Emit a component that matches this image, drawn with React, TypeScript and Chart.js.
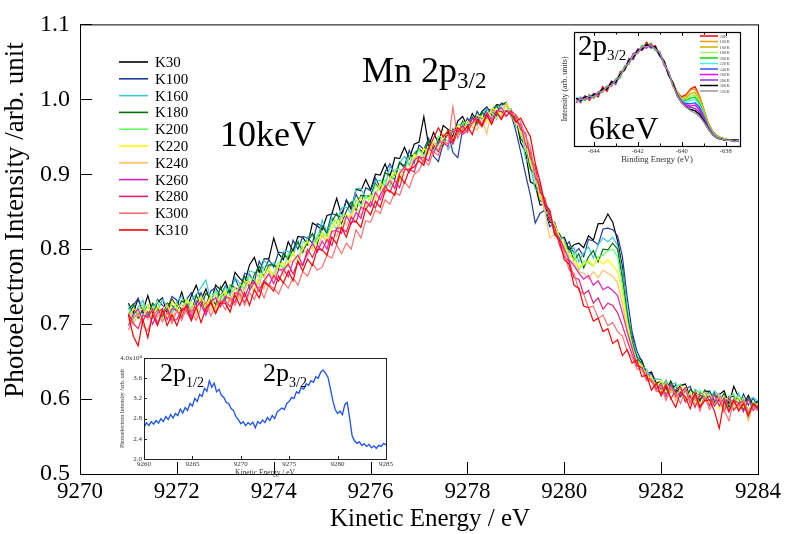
import React, { useEffect, useRef } from "react";
import { Chart, registerables } from "chart.js";

Chart.register(...registerables);

const SERIF = "'Liberation Serif', 'Times New Roman', Times, serif";

// ---------------- main panel (10 keV, Mn 2p3/2) ----------------
const energy = [
  9271.0, 9271.1, 9271.2, 9271.3, 9271.4, 9271.5, 9271.6, 9271.7, 9271.8, 9271.9,
  9272.0, 9272.1, 9272.2, 9272.3, 9272.4, 9272.5, 9272.6, 9272.7, 9272.8, 9272.9,
  9273.0, 9273.1, 9273.2, 9273.3, 9273.4, 9273.5, 9273.6, 9273.7, 9273.8, 9273.9,
  9274.0, 9274.1, 9274.2, 9274.3, 9274.4, 9274.5, 9274.6, 9274.7, 9274.8, 9274.9,
  9275.0, 9275.1, 9275.2, 9275.3, 9275.4, 9275.5, 9275.6, 9275.7, 9275.8, 9275.9,
  9276.0, 9276.1, 9276.2, 9276.3, 9276.4, 9276.5, 9276.6, 9276.7, 9276.8, 9276.9,
  9277.0, 9277.1, 9277.2, 9277.3, 9277.4, 9277.5, 9277.6, 9277.7, 9277.8, 9277.9,
  9278.0, 9278.1, 9278.2, 9278.3, 9278.4, 9278.5, 9278.6, 9278.7, 9278.8, 9278.9,
  9279.0, 9279.1, 9279.2, 9279.3, 9279.4, 9279.5, 9279.6, 9279.7, 9279.8, 9279.9,
  9280.0, 9280.1, 9280.2, 9280.3, 9280.4, 9280.5, 9280.6, 9280.7, 9280.8, 9280.9,
  9281.0, 9281.1, 9281.2, 9281.3, 9281.4, 9281.5, 9281.6, 9281.7, 9281.8, 9281.9,
  9282.0, 9282.1, 9282.2, 9282.3, 9282.4, 9282.5, 9282.6, 9282.7, 9282.8, 9282.9,
  9283.0, 9283.1, 9283.2, 9283.3, 9283.4, 9283.5, 9283.6, 9283.7, 9283.8, 9283.9,
  9284.0,
];

const K30 = [
  .728, .715, .734, .718, .738, .716, .729, .735, .714, .733,
  .723, .743, .721, .738, .752, .732, .747, .728, .752, .746,
  .757, .741, .769, .761, .755, .779, .789, .769, .787, .787,
  .815, .794, .786, .810, .797, .817, .816, .806, .835, .831,
  .826, .845, .847, .868, .846, .865, .853, .880, .878, .893,
  .879, .900, .899, .914, .897, .922, .921, .936, .921, .940,
  .943, .977, .938, .956, .941, .965, .960, .950, .971, .977,
  .964, .981, .971, .984, .990, .979, .993, .992, .996, .979,
  .976, .942, .929, .890, .886, .859, .860, .836, .834, .814,
  .816, .799, .806, .808, .802, .818, .812, .834, .834, .847,
  .836, .811, .776, .712, .684, .656, .652, .634, .636, .621,
  .624, .612, .624, .610, .618, .620, .602, .611, .598, .611,
  .610, .595, .606, .611, .594, .617, .602, .592, .605, .592,
  .598,
];
const K100 = [
  .710, .725, .734, .714, .725, .710, .733, .725, .720, .737,
  .732, .717, .733, .742, .726, .742, .724, .744, .749, .737,
  .751, .743, .762, .746, .768, .766, .756, .784, .772, .786,
  .776, .796, .795, .787, .812, .800, .817, .815, .808, .834,
  .831, .824, .848, .845, .843, .866, .856, .873, .861, .882,
  .878, .895, .882, .903, .914, .899, .916, .911, .932, .915,
  .939, .933, .948, .924, .917, .941, .958, .929, .922, .960,
  .975, .964, .984, .973, .987, .986, .978, .995, .993, .980,
  .958, .930, .900, .872, .835, .848, .852, .830, .836, .815,
  .802, .810, .794, .801, .790, .813, .811, .806, .827, .828,
  .826, .818, .790, .735, .690, .664, .650, .632, .634, .620,
  .613, .625, .611, .619, .603, .613, .617, .600, .609, .602,
  .611, .598, .607, .590, .603, .604, .589, .607, .592, .601,
  .590,
];
const K160 = [
  .726, .711, .722, .732, .709, .726, .717, .733, .724, .715,
  .730, .737, .719, .732, .739, .749, .759, .731, .744, .733,
  .750, .738, .762, .755, .747, .771, .769, .763, .786, .776,
  .782, .774, .797, .797, .792, .812, .795, .817, .818, .812,
  .839, .822, .842, .835, .855, .856, .848, .881, .881, .868,
  .872, .891, .892, .884, .911, .900, .915, .924, .912, .929,
  .934, .926, .944, .932, .939, .953, .933, .943, .966, .967,
  .964, .977, .965, .980, .988, .975, .991, .988, .984, .988,
  .963, .960, .921, .911, .880, .877, .851, .847, .819, .820,
  .812, .795, .802, .783, .795, .803, .788, .806, .815, .810,
  .816, .805, .770, .720, .680, .660, .644, .640, .626, .627,
  .626, .610, .618, .622, .606, .614, .596, .613, .608, .597,
  .598, .611, .604, .591, .604, .593, .608, .590, .599, .602,
  .597,
];
const K180 = [
  .720, .727, .708, .720, .711, .728, .721, .709, .728, .725,
  .718, .731, .727, .716, .739, .723, .741, .736, .726, .750,
  .732, .752, .749, .745, .764, .748, .766, .777, .763, .779,
  .779, .773, .794, .786, .801, .809, .796, .810, .821, .807,
  .830, .821, .837, .848, .834, .851, .863, .852, .872, .871,
  .871, .888, .879, .902, .898, .893, .916, .908, .923, .926,
  .934, .928, .945, .934, .947, .938, .959, .958, .953, .971,
  .961, .976, .968, .983, .975, .986, .992, .981, .995, .977,
  .976, .947, .940, .907, .899, .865, .860, .850, .821, .821,
  .798, .804, .785, .794, .775, .790, .798, .783, .800, .799,
  .808, .800, .760, .712, .676, .654, .648, .631, .630, .618,
  .621, .607, .623, .607, .615, .597, .613, .606, .597, .612,
  .595, .608, .597, .608, .589, .600, .601, .585, .602, .589,
  .596,
];
const K200 = [
  .722, .705, .718, .726, .709, .718, .731, .707, .724, .715,
  .728, .715, .734, .719, .731, .737, .721, .735, .744, .728,
  .742, .751, .736, .754, .745, .763, .759, .752, .776, .771,
  .767, .783, .774, .794, .793, .785, .810, .808, .803, .819,
  .822, .817, .837, .826, .846, .845, .841, .866, .856, .871,
  .865, .886, .878, .893, .883, .906, .907, .903, .924, .918,
  .933, .923, .937, .930, .951, .950, .944, .962, .954, .968,
  .970, .965, .979, .968, .982, .983, .973, .992, .992, .978,
  .968, .963, .931, .922, .888, .883, .849, .846, .833, .808,
  .808, .789, .795, .772, .784, .782, .777, .790, .792, .798,
  .800, .790, .752, .705, .672, .652, .646, .630, .628, .617,
  .610, .624, .608, .616, .620, .598, .608, .597, .612, .603,
  .608, .593, .602, .587, .602, .607, .590, .602, .585, .596,
  .592,
];
const K220 = [
  .704, .721, .716, .702, .725, .710, .723, .717, .708, .731,
  .722, .711, .731, .728, .718, .737, .725, .737, .720, .738,
  .744, .733, .748, .737, .758, .754, .746, .767, .763, .776,
  .762, .780, .781, .777, .796, .782, .801, .811, .798, .812,
  .821, .812, .828, .839, .827, .846, .842, .859, .869, .856,
  .872, .865, .889, .880, .896, .903, .891, .910, .906, .927,
  .917, .935, .927, .942, .932, .954, .952, .947, .965, .957,
  .971, .964, .978, .977, .969, .988, .986, .981, .995, .985,
  .977, .953, .948, .914, .901, .867, .869, .839, .833, .817,
  .806, .792, .786, .776, .780, .785, .778, .788, .780, .786,
  .778, .770, .740, .700, .670, .650, .644, .628, .630, .616,
  .625, .609, .617, .601, .611, .617, .597, .610, .591, .604,
  .595, .606, .587, .602, .599, .586, .603, .589, .598, .585,
  .594,
];
const K240 = [
  .716, .699, .714, .722, .705, .722, .709, .719, .726, .707,
  .722, .727, .713, .724, .711, .735, .727, .718, .738, .725,
  .739, .730, .749, .732, .747, .757, .744, .760, .747, .769,
  .760, .778, .765, .783, .784, .780, .803, .791, .808, .798,
  .819, .808, .824, .817, .843, .832, .848, .857, .845, .862,
  .856, .874, .885, .875, .894, .882, .904, .907, .905, .922,
  .924, .917, .935, .943, .932, .946, .936, .959, .957, .954,
  .970, .963, .959, .974, .954, .985, .983, .976, .994, .983,
  .967, .965, .935, .927, .908, .873, .851, .815, .820, .812,
  .804, .783, .782, .770, .768, .760, .770, .762, .772, .768,
  .764, .755, .728, .690, .666, .648, .640, .636, .622, .621,
  .608, .620, .614, .598, .616, .600, .608, .593, .604, .609,
  .604, .591, .606, .591, .582, .601, .588, .598, .571, .594,
  .588,
];
const K260 = [
  .698, .713, .720, .704, .717, .700, .715, .721, .706, .721,
  .718, .709, .727, .710, .731, .725, .712, .730, .735, .723,
  .737, .734, .729, .749, .736, .752, .757, .745, .758, .767,
  .754, .772, .773, .763, .784, .792, .779, .795, .808, .796,
  .811, .800, .824, .825, .821, .844, .834, .849, .841, .864,
  .857, .876, .866, .882, .891, .881, .901, .910, .902, .918,
  .924, .916, .936, .927, .944, .942, .937, .960, .958, .953,
  .959, .974, .972, .965, .983, .972, .984, .989, .977, .984,
  .970, .967, .940, .930, .896, .884, .857, .848, .822, .815,
  .800, .786, .778, .768, .760, .765, .752, .758, .746, .750,
  .745, .738, .715, .690, .668, .646, .642, .628, .626, .614,
  .619, .603, .619, .603, .609, .615, .595, .608, .589, .602,
  .591, .606, .591, .602, .583, .598, .595, .583, .600, .585,
  .592,
];
const K280 = [
  .714, .701, .694, .712, .709, .720, .701, .713, .720, .705,
  .706, .721, .718, .705, .723, .730, .716, .731, .715, .730,
  .731, .723, .742, .740, .729, .745, .756, .743, .758, .752,
  .765, .757, .772, .780, .767, .783, .778, .800, .789, .805,
  .798, .813, .805, .828, .828, .823, .843, .836, .856, .853,
  .863, .855, .873, .884, .876, .892, .882, .906, .907, .903,
  .923, .922, .918, .939, .930, .945, .953, .940, .957, .965,
  .956, .969, .977, .966, .978, .967, .985, .984, .978, .985,
  .978, .960, .955, .922, .910, .876, .868, .840, .830, .806,
  .790, .784, .762, .760, .740, .745, .728, .735, .720, .728,
  .725, .715, .698, .678, .660, .644, .642, .626, .624, .612,
  .608, .620, .600, .612, .616, .596, .604, .589, .606, .599,
  .604, .591, .600, .583, .602, .585, .594, .598, .581, .594,
  .586,
];
const K300 = [
  .692, .709, .714, .698, .691, .710, .719, .703, .716, .701,
  .718, .705, .722, .717, .705, .722, .729, .711, .724, .732,
  .719, .735, .725, .742, .725, .742, .733, .750, .735, .753,
  .748, .740, .756, .748, .762, .752, .770, .764, .781, .772,
  .776, .792, .788, .806, .794, .808, .800, .826, .815, .838,
  .836, .852, .848, .866, .860, .876, .872, .890, .882, .900,
  .905, .920, .912, .930, .925, .945, .940, .990, .948, .962,
  .955, .968, .972, .963, .976, .970, .982, .976, .985, .980,
  .980, .970, .950, .936, .900, .888, .860, .852, .820, .812,
  .796, .772, .768, .745, .740, .722, .724, .708, .712, .698,
  .702, .690, .684, .664, .656, .640, .640, .624, .626, .610,
  .617, .598, .614, .608, .594, .612, .594, .603, .584, .603,
  .586, .599, .602, .585, .571, .598, .585, .599, .582, .591,
  .584,
];
const K310 = [
  .712, .684, .671, .706, .682, .713, .698, .719, .698, .713,
  .698, .717, .724, .705, .723, .702, .721, .729, .714, .728,
  .728, .716, .739, .725, .742, .725, .746, .735, .756, .751,
  .744, .764, .755, .771, .758, .784, .771, .787, .778, .800,
  .799, .792, .816, .807, .829, .816, .836, .837, .829, .854,
  .846, .864, .856, .878, .878, .872, .898, .888, .906, .910,
  .918, .912, .935, .948, .962, .950, .958, .944, .962, .956,
  .964, .953, .973, .964, .980, .967, .983, .973, .985, .980,
  .970, .975, .962, .950, .915, .890, .860, .852, .820, .812,
  .786, .780, .752, .748, .724, .722, .704, .708, .690, .694,
  .674, .679, .658, .666, .648, .652, .630, .632, .612, .621,
  .604, .617, .601, .589, .609, .603, .587, .608, .589, .598,
  .599, .584, .561, .598, .584, .599, .584, .594, .577, .594,
  .588,
];

const mainNames = ["K30", "K100", "K160", "K180", "K200", "K220", "K240", "K260", "K280", "K300", "K310"];
const mainSeries = [K30, K100, K160, K180, K200, K220, K240, K260, K280, K300, K310];
const mainColors = [
  "#000000", "#1c3c9c", "#3cc8d0", "#007000", "#66ff66", "#ffff00",
  "#ffc068", "#e020c0", "#e8206c", "#ff7070", "#ff0000",
];
const xTickValues = [9270, 9272, 9274, 9276, 9278, 9280, 9282, 9284];
const yTickValues = [0.5, 0.6, 0.7, 0.8, 0.9, 1.0, 1.1];

// ---------------- inset 1 (6 keV, binding energy) ----------------
const bindingEnergy = [
  -644.8, -644.6, -644.4, -644.2, -644.0, -643.8, -643.6, -643.4, -643.2, -643.0,
  -642.8, -642.6, -642.4, -642.2, -642.0, -641.8, -641.6, -641.4, -641.2, -641.0,
  -640.8, -640.6, -640.4, -640.2, -640.0, -639.8, -639.6, -639.4, -639.2, -639.0,
  -638.8, -638.6, -638.4, -638.2, -638.0, -637.8, -637.6, -637.4,
];
const T20 = [.42, .38, .44, .40, .46, .43, .52, .48, .57, .54, .65, .66, .77, .76, .85, .84, .91, .86, .88, .79, .75, .62, .56, .47, .43, .45, .50, .52, .44, .32, .20, .13, .09, .07, .06, .05, .04, .05];
const T100 = [.38, .43, .40, .45, .42, .48, .47, .53, .52, .59, .60, .70, .72, .81, .81, .88, .86, .90, .84, .83, .71, .65, .52, .47, .42, .44, .49, .50, .44, .32, .20, .13, .09, .07, .06, .05, .05, .04];
const T160 = [.41, .39, .43, .41, .46, .45, .50, .50, .56, .55, .63, .67, .75, .78, .84, .85, .89, .87, .87, .80, .74, .63, .55, .46, .41, .42, .46, .47, .41, .30, .19, .12, .08, .07, .06, .05, .05, .05];
const T180 = [.42, .39, .44, .42, .45, .46, .49, .51, .55, .55, .64, .66, .76, .77, .85, .84, .89, .86, .87, .79, .75, .62, .56, .46, .41, .41, .44, .45, .40, .30, .18, .12, .08, .06, .06, .05, .05, .04];
const T200 = [.38, .42, .40, .45, .42, .47, .49, .51, .54, .58, .60, .70, .72, .81, .82, .88, .86, .90, .84, .82, .71, .65, .53, .46, .40, .40, .42, .43, .38, .28, .18, .11, .08, .06, .05, .05, .05, .05];
const T220 = [.41, .43, .41, .44, .44, .47, .48, .53, .53, .59, .61, .69, .73, .80, .83, .87, .87, .88, .85, .82, .72, .64, .53, .45, .40, .38, .40, .41, .36, .27, .17, .11, .08, .06, .05, .05, .04, .05];
const T240 = [.42, .39, .43, .43, .45, .46, .49, .50, .56, .55, .63, .67, .76, .77, .84, .85, .89, .87, .86, .79, .74, .63, .54, .45, .39, .37, .37, .38, .34, .26, .17, .11, .07, .06, .05, .05, .05, .04];
const T260 = [.38, .42, .41, .44, .43, .47, .49, .52, .53, .58, .62, .68, .73, .81, .82, .87, .86, .89, .85, .82, .71, .65, .53, .45, .39, .36, .35, .36, .32, .25, .16, .10, .07, .06, .05, .05, .05, .05];
const T280 = [.41, .40, .44, .41, .46, .45, .50, .51, .55, .56, .63, .67, .75, .78, .85, .84, .89, .86, .87, .79, .74, .62, .55, .44, .38, .35, .34, .33, .30, .24, .16, .10, .07, .06, .05, .05, .04, .05];
const T300 = [.42, .40, .43, .43, .45, .46, .50, .50, .56, .56, .63, .67, .75, .78, .84, .85, .89, .87, .87, .80, .74, .63, .55, .44, .38, .34, .32, .31, .28, .22, .15, .10, .07, .06, .05, .05, .05, .05];
const T320 = [.39, .41, .41, .44, .43, .47, .48, .52, .53, .58, .61, .69, .73, .80, .82, .87, .87, .88, .85, .82, .72, .65, .53, .44, .38, .34, .31, .29, .26, .21, .15, .10, .07, .06, .05, .05, .04, .05];

const insetNames = ["20K", "100K", "160K", "180K", "200K", "220K", "240K", "260K", "280K", "300K", "320K"];
const insetSeries = [T20, T100, T160, T180, T200, T220, T240, T260, T280, T300, T320];
const insetColors = [
  "#ff0000", "#ff9a00", "#c8b400", "#a8f060", "#00dd00", "#40f0f0",
  "#3050ff", "#ff00ff", "#9a30e0", "#000000", "#999999",
];
const insetXTicks = [-644, -642, -640, -638];
const insetFrameTicks = [-644, -643, -642, -641, -640, -639, -638];

// ---------------- inset 2 (full 2p spectrum) ----------------
const fullEnergy = [
  9260.00, 9260.25, 9260.50, 9260.75, 9261.00, 9261.25, 9261.50, 9261.75,
  9262.00, 9262.25, 9262.50, 9262.75, 9263.00, 9263.25, 9263.50, 9263.75,
  9264.00, 9264.25, 9264.50, 9264.75, 9265.00, 9265.25, 9265.50, 9265.75,
  9266.00, 9266.25, 9266.50, 9266.75, 9267.00, 9267.25, 9267.50, 9267.75,
  9268.00, 9268.25, 9268.50, 9268.75, 9269.00, 9269.25, 9269.50, 9269.75,
  9270.00, 9270.25, 9270.50, 9270.75, 9271.00, 9271.25, 9271.50, 9271.75,
  9272.00, 9272.25, 9272.50, 9272.75, 9273.00, 9273.25, 9273.50, 9273.75,
  9274.00, 9274.25, 9274.50, 9274.75, 9275.00, 9275.25, 9275.50, 9275.75,
  9276.00, 9276.25, 9276.50, 9276.75, 9277.00, 9277.25, 9277.50, 9277.75,
  9278.00, 9278.25, 9278.50, 9278.75, 9279.00, 9279.25, 9279.50, 9279.75,
  9280.00, 9280.25, 9280.50, 9280.75, 9281.00, 9281.25, 9281.50, 9281.75,
  9282.00, 9282.25, 9282.50, 9282.75, 9283.00, 9283.25, 9283.50, 9283.75,
  9284.00, 9284.25, 9284.50, 9284.75, 9285.00,
];
const fullIntensity = [
  2.62, 2.72, 2.66, 2.74, 2.69, 2.76, 2.71, 2.80,
  2.74, 2.84, 2.78, 2.88, 2.81, 2.90, 2.86, 2.99,
  2.91, 3.02, 2.96, 3.10, 3.05, 3.20, 3.14, 3.28,
  3.24, 3.40, 3.34, 3.55, 3.42, 3.50, 3.33, 3.38,
  3.26, 3.22, 3.12, 3.10, 3.00, 2.96, 2.84, 2.78,
  2.70, 2.74, 2.66, 2.72, 2.68, 2.73, 2.62, 2.74,
  2.70, 2.77, 2.72, 2.82, 2.76, 2.86, 2.80, 2.93,
  2.97, 3.01, 2.98, 3.10, 3.14, 3.22, 3.20, 3.33,
  3.30, 3.42, 3.38, 3.49, 3.46, 3.55, 3.52, 3.63,
  3.60, 3.72, 3.76, 3.70, 3.62, 3.40, 3.16, 2.98,
  2.90, 2.95, 2.88, 3.08, 3.12, 2.80, 2.46, 2.36,
  2.31, 2.34, 2.27, 2.30, 2.25, 2.29, 2.22, 2.26,
  2.21, 2.27, 2.25, 2.31, 2.28,
];
const fullXTicks = [9260, 9265, 9270, 9275, 9280, 9285];
const fullYTicks = [2.0, 2.4, 2.8, 3.2, 3.6, 4.0];

// ---------------- helpers ----------------
const setTicks = (values: number[]) => (scale: any) => {
  scale.ticks = values.map((v) => ({ value: v }));
};

const mainPlugin = {
  id: "mainDecor",
  beforeDraw(chart: any) {
    const { ctx, width, height } = chart;
    ctx.save();
    ctx.fillStyle = "#ffffff";
    ctx.fillRect(0, 0, width, height);
    ctx.restore();
  },
  afterDraw(chart: any) {
    const { ctx, chartArea: a, scales } = chart;
    ctx.save();
    ctx.strokeStyle = "#000";
    ctx.lineWidth = 1;
    ctx.strokeRect(a.left + 0.5, a.top + 0.5, a.right - a.left, a.bottom - a.top);
    ctx.beginPath();
    xTickValues.forEach((v) => {
      const px = Math.round(scales.x.getPixelForValue(v)) + 0.5;
      ctx.moveTo(px, a.bottom);
      ctx.lineTo(px, a.bottom - 12);
    });
    yTickValues.forEach((v) => {
      const py = Math.round(scales.y.getPixelForValue(v)) + 0.5;
      ctx.moveTo(a.left, py);
      ctx.lineTo(a.left + 12, py);
    });
    ctx.stroke();

    // axis titles
    ctx.fillStyle = "#000";
    ctx.textAlign = "center";
    ctx.textBaseline = "middle";
    ctx.font = `25px ${SERIF}`;
    ctx.fillText("Kinetic Energy / eV", 430, 519);
    ctx.save();
    ctx.translate(16, 220);
    ctx.rotate(-Math.PI / 2);
    ctx.font = `27px ${SERIF}`;
    ctx.fillText("Photoelectron Intensity /arb. unit", 0, 0);
    ctx.restore();

    // legend
    ctx.textAlign = "left";
    ctx.font = `15px ${SERIF}`;
    mainNames.forEach((name, i) => {
      const yy = 62 + i * 16.8;
      ctx.strokeStyle = mainColors[i];
      ctx.lineWidth = 1.6;
      ctx.beginPath();
      ctx.moveTo(119, yy);
      ctx.lineTo(148, yy);
      ctx.stroke();
      ctx.fillStyle = "#000";
      ctx.fillText(name, 155, yy + 1);
    });
    ctx.restore();
  },
};

const inset1Plugin = {
  id: "inset1Decor",
  beforeDraw(chart: any) {
    const { ctx, chartArea: a } = chart;
    ctx.save();
    ctx.fillStyle = "#ffffff";
    ctx.fillRect(a.left, a.top, a.right - a.left, a.bottom - a.top);
    ctx.restore();
  },
  afterDraw(chart: any) {
    const { ctx, chartArea: a, scales } = chart;
    ctx.save();
    ctx.strokeStyle = "#000";
    ctx.lineWidth = 1.2;
    ctx.strokeRect(a.left + 0.5, a.top + 0.5, a.right - a.left, a.bottom - a.top);
    ctx.lineWidth = 1;
    ctx.beginPath();
    insetFrameTicks.forEach((v) => {
      const px = Math.round(scales.x.getPixelForValue(v)) + 0.5;
      const len = insetXTicks.includes(v) ? 4 : 2.5;
      ctx.moveTo(px, a.bottom);
      ctx.lineTo(px, a.bottom - len);
      ctx.moveTo(px, a.top);
      ctx.lineTo(px, a.top + len);
    });
    ctx.stroke();
    // legend
    ctx.font = `4.6px ${SERIF}`;
    ctx.textAlign = "left";
    ctx.textBaseline = "middle";
    insetNames.forEach((name, i) => {
      const yy = 10 + i * 5.5;
      ctx.strokeStyle = insetColors[i];
      ctx.lineWidth = 1.5;
      ctx.beginPath();
      ctx.moveTo(144, yy);
      ctx.lineTo(162, yy);
      ctx.stroke();
      ctx.fillStyle = "#555";
      ctx.fillText(name, 163.5, yy + 0.5);
    });
    ctx.restore();
  },
};

const inset2Plugin = {
  id: "inset2Decor",
  beforeDraw(chart: any) {
    const { ctx, chartArea: a } = chart;
    ctx.save();
    ctx.fillStyle = "#ffffff";
    ctx.fillRect(a.left, a.top, a.right - a.left, a.bottom - a.top);
    ctx.restore();
  },
  afterDraw(chart: any) {
    const { ctx, chartArea: a, scales } = chart;
    ctx.save();
    ctx.strokeStyle = "#222";
    ctx.lineWidth = 1;
    ctx.strokeRect(a.left + 0.5, a.top + 0.5, a.right - a.left, a.bottom - a.top);
    ctx.beginPath();
    fullXTicks.forEach((v) => {
      const px = Math.round(scales.x.getPixelForValue(v)) + 0.5;
      ctx.moveTo(px, a.bottom);
      ctx.lineTo(px, a.bottom - 3);
    });
    fullYTicks.forEach((v) => {
      const py = Math.round(scales.y.getPixelForValue(v)) + 0.5;
      ctx.moveTo(a.left, py);
      ctx.lineTo(a.left + 3, py);
    });
    ctx.stroke();
    ctx.restore();
  },
};

function mainConfig(): any {
  return {
    type: "line",
    data: {
      datasets: mainSeries.map((vals, i) => ({
        label: mainNames[i],
        data: vals.map((y, j) => ({ x: energy[j], y })),
        borderColor: mainColors[i],
        backgroundColor: mainColors[i],
        borderWidth: 1.2,
        pointRadius: 0,
        tension: 0,
        fill: false,
        order: mainSeries.length - i,
      })),
    },
    options: {
      animation: false,
      responsive: false,
      events: [],
      layout: { padding: { left: 0, right: 26, top: 20, bottom: 0 } },
      plugins: { legend: { display: false }, tooltip: { enabled: false } },
      scales: {
        x: {
          type: "linear",
          min: 9270,
          max: 9284,
          afterBuildTicks: setTicks(xTickValues),
          afterFit: (s: any) => {
            s.height = 60;
          },
          ticks: {
            callback: (v: any) => String(v),
            font: { family: SERIF, size: 23 },
            color: "#000",
            padding: 4,
            maxRotation: 0,
            autoSkip: false,
          },
          grid: { display: false, drawTicks: false },
          border: { display: false },
        },
        y: {
          type: "linear",
          min: 0.5,
          max: 1.1,
          afterBuildTicks: setTicks(yTickValues),
          afterFit: (s: any) => {
            s.width = 80;
          },
          ticks: {
            callback: (v: any) => Number(v).toFixed(1),
            font: { family: SERIF, size: 24 },
            color: "#000",
            padding: 10,
            autoSkip: false,
          },
          grid: { display: false, drawTicks: false },
          border: { display: false },
        },
      },
    },
    plugins: [mainPlugin],
  };
}

function inset1Config(): any {
  return {
    type: "line",
    data: {
      datasets: insetSeries.map((vals, i) => ({
        label: insetNames[i],
        data: vals.map((y, j) => ({ x: bindingEnergy[j], y })),
        borderColor: insetColors[i],
        borderWidth: 1.4,
        pointRadius: 0,
        tension: 0,
        fill: false,
        order: insetSeries.length - i,
      })),
    },
    options: {
      animation: false,
      responsive: false,
      events: [],
      layout: { padding: { left: 0, right: 16, top: 6, bottom: 0 } },
      plugins: { legend: { display: false }, tooltip: { enabled: false } },
      scales: {
        x: {
          type: "linear",
          min: -644.9,
          max: -637.35,
          afterBuildTicks: setTicks(insetXTicks),
          afterFit: (s: any) => {
            s.height = 22;
          },
          ticks: {
            callback: (v: any) => String(v),
            font: { family: SERIF, size: 6.5 },
            color: "#333",
            padding: 1,
            maxRotation: 0,
            autoSkip: false,
          },
          grid: { display: false, drawTicks: false },
          border: { display: false },
          title: {
            display: true,
            text: "Binding Energy (eV)",
            font: { family: SERIF, size: 8.5 },
            color: "#333",
            padding: { top: 0, bottom: 3 },
          },
        },
        y: {
          type: "linear",
          min: 0,
          max: 1,
          afterFit: (s: any) => {
            s.width = 18;
          },
          ticks: { display: false },
          grid: { display: false, drawTicks: false },
          border: { display: false },
          title: {
            display: true,
            text: "Intensity (arb. units)",
            font: { family: SERIF, size: 8 },
            color: "#333",
            padding: { top: 4, bottom: 0 },
          },
        },
      },
    },
    plugins: [inset1Plugin],
  };
}

function inset2Config(): any {
  return {
    type: "line",
    data: {
      datasets: [
        {
          label: "2p",
          data: fullIntensity.map((y, j) => ({ x: fullEnergy[j], y })),
          borderColor: "#1a50ff",
          borderWidth: 1.3,
          pointRadius: 0,
          tension: 0,
          fill: false,
        },
      ],
    },
    options: {
      animation: false,
      responsive: false,
      events: [],
      layout: { padding: { left: 10, right: 12, top: 8, bottom: 0 } },
      plugins: { legend: { display: false }, tooltip: { enabled: false } },
      scales: {
        x: {
          type: "linear",
          min: 9260,
          max: 9285,
          afterBuildTicks: setTicks(fullXTicks),
          afterFit: (s: any) => {
            s.height = 21;
          },
          ticks: {
            callback: (v: any) => String(v),
            font: { family: SERIF, size: 7 },
            color: "#333",
            padding: 1,
            maxRotation: 0,
            autoSkip: false,
          },
          grid: { display: false, drawTicks: false },
          border: { display: false },
          title: {
            display: true,
            text: "Kinetic Energy / eV",
            font: { family: SERIF, size: 7.5 },
            color: "#333",
            padding: { top: 0, bottom: 2 },
          },
        },
        y: {
          type: "linear",
          min: 2.0,
          max: 4.0,
          afterBuildTicks: setTicks(fullYTicks),
          afterFit: (s: any) => {
            s.width = 26;
          },
          ticks: {
            callback: (v: any) => (Number(v) === 4 ? "4.0x10\u2074" : Number(v).toFixed(1)),
            font: { family: SERIF, size: 7 },
            color: "#333",
            padding: 2,
            autoSkip: false,
          },
          grid: { display: false, drawTicks: false },
          border: { display: false },
          title: {
            display: true,
            text: "Photoelectron Intensity /arb. unit",
            font: { family: SERIF, size: 6 },
            color: "#333",
            padding: { top: 1, bottom: 0 },
          },
        },
      },
    },
    plugins: [inset2Plugin],
  };
}

function Txt(props: { x: number; base: number; size: number; children: any }) {
  const { x, base, size, children } = props;
  return (
    <div
      style={{
        position: "absolute",
        left: x,
        top: base - 0.8375 * size,
        fontSize: size,
        lineHeight: `${size}px`,
        whiteSpace: "nowrap",
        fontFamily: SERIF,
        color: "#000",
      }}
    >
      {children}
    </div>
  );
}

function Sub(props: { size: number; drop: number; children: any }) {
  return (
    <span style={{ fontSize: props.size, position: "relative", top: props.drop }}>{props.children}</span>
  );
}

export default function App() {
  const mainRef = useRef<HTMLCanvasElement>(null);
  const inset1Ref = useRef<HTMLCanvasElement>(null);
  const inset2Ref = useRef<HTMLCanvasElement>(null);

  useEffect(() => {
    const charts: Chart[] = [];
    if (mainRef.current) charts.push(new Chart(mainRef.current, mainConfig()));
    if (inset1Ref.current) charts.push(new Chart(inset1Ref.current, inset1Config()));
    if (inset2Ref.current) charts.push(new Chart(inset2Ref.current, inset2Config()));
    return () => charts.forEach((c) => c.destroy());
  }, []);

  return (
    <div style={{ position: "absolute", left: 0, top: 0, width: 785, height: 534, background: "#fff", overflow: "hidden" }}>
      <canvas ref={mainRef} width={785} height={534} style={{ position: "absolute", left: 0, top: 0 }} />
      <canvas ref={inset1Ref} width={200} height={142} style={{ position: "absolute", left: 556, top: 26 }} />
      <canvas ref={inset2Ref} width={290} height={130} style={{ position: "absolute", left: 108, top: 350 }} />

      <Txt x={362} base={82} size={36}>
        Mn 2p<Sub size={23} drop={6}>3/2</Sub>
      </Txt>
      <Txt x={220} base={146} size={36}>
        10keV
      </Txt>
      <Txt x={578} base={55} size={29}>
        2p<Sub size={15} drop={5}>3/2</Sub>
      </Txt>
      <Txt x={589} base={139} size={32}>
        6keV
      </Txt>
      <Txt x={160} base={382} size={26}>
        2p<Sub size={14} drop={6}>1/2</Sub>
      </Txt>
      <Txt x={263} base={382} size={26}>
        2p<Sub size={14} drop={6}>3/2</Sub>
      </Txt>
    </div>
  );
}
